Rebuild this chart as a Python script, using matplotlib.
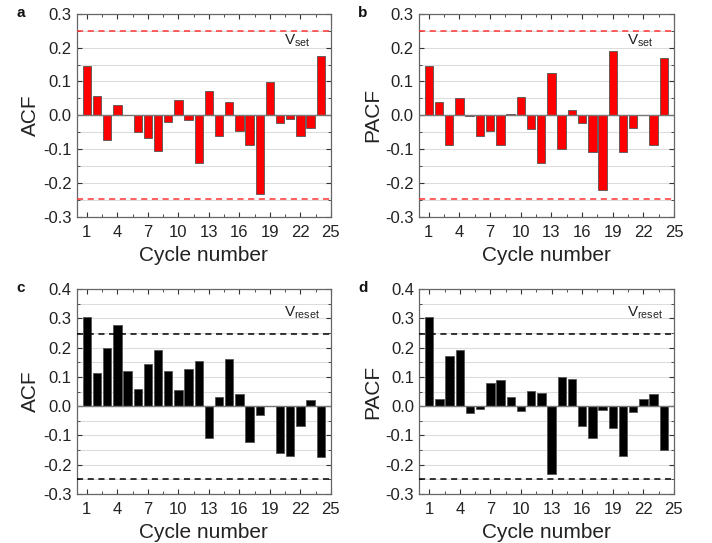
import numpy as np
import matplotlib
matplotlib.use('Agg')
import matplotlib.pyplot as plt
from matplotlib.ticker import MultipleLocator, FixedLocator

plt.rcParams['font.family'] = ['Liberation Sans', 'DejaVu Sans']
plt.rcParams['mathtext.fontset'] = 'custom'
plt.rcParams['mathtext.rm'] = 'Liberation Sans'

cycles = list(range(1, 25))
xtick_labels = [1, 4, 7, 10, 13, 16, 19, 22, 25]

acf_set = [0.147, 0.058, -0.074, 0.029, 0.0, -0.050, -0.067, -0.106, -0.020, 0.045,
           -0.014, -0.140, 0.071, -0.060, 0.038, -0.048, -0.087, -0.234, 0.099, -0.022,
           -0.012, -0.062, -0.039, 0.174]
pacf_set = [0.146, 0.038, -0.088, 0.052, -0.002, -0.062, -0.046, -0.087, 0.005, 0.054,
            -0.040, -0.141, 0.126, -0.099, 0.016, -0.023, -0.108, -0.220, 0.189, -0.109,
            -0.038, 0.0, -0.089, 0.168]
acf_reset = [0.305, 0.113, 0.197, 0.277, 0.119, 0.057, 0.145, 0.193, 0.120, 0.056,
             0.128, 0.153, -0.109, 0.031, 0.162, 0.043, -0.124, -0.031, 0.0, -0.160,
             -0.169, -0.068, 0.020, -0.173]
pacf_reset = [0.305, 0.024, 0.172, 0.193, -0.024, -0.010, 0.078, 0.090, 0.031, -0.017,
              0.053, 0.044, -0.232, 0.101, 0.093, -0.069, -0.110, -0.014, -0.076, -0.169,
              -0.020, 0.023, 0.041, -0.150]

conf_limit = 0.248

panels = [
    # letter, values, ylabel, colour, dashed colour, note, ylim, rect
    ('a', acf_set, 'ACF', '#ff0000', '#ff3333', 'set', (-0.3, 0.3), [0.1077, 0.601, 0.357, 0.3735]),
    ('b', pacf_set, 'PACF', '#ff0000', '#ff3333', 'set', (-0.3, 0.3), [0.5878, 0.601, 0.359, 0.3735]),
    ('c', acf_reset, 'ACF', '#000000', '#000000', 'reset', (-0.3, 0.4), [0.1077, 0.0902, 0.357, 0.3775]),
    ('d', pacf_reset, 'PACF', '#000000', '#000000', 'reset', (-0.3, 0.4), [0.5885, 0.0902, 0.358, 0.3775]),
]

fig = plt.figure(figsize=(7.12, 5.43), dpi=100)

for letter, vals, ylab, col, dcol, note, ylim, rect in panels:
    ax = fig.add_axes(rect)
    ax.set_xlim(0, 25)
    ax.set_ylim(*ylim)
    ax.yaxis.set_major_locator(MultipleLocator(0.1))
    ax.yaxis.set_minor_locator(MultipleLocator(0.05))
    ax.xaxis.set_major_locator(FixedLocator(xtick_labels))
    ax.xaxis.set_minor_locator(FixedLocator([2.5, 5.5, 8.5, 11.5, 14.5, 17.5, 20.5, 23.5]))
    ax.set_xticklabels([str(t) for t in xtick_labels])
    ax.yaxis.set_major_formatter(matplotlib.ticker.FormatStrFormatter('%.1f'))

    # light grid every 0.05
    for g in np.arange(ylim[0], ylim[1] + 0.001, 0.05):
        ax.axhline(g, color='#dddddd', lw=0.8, zorder=0)

    ax.bar(cycles, vals, width=0.82, color=col, edgecolor='#555555', linewidth=0.6, zorder=2)
    ax.axhline(0, color='#777777', lw=1.0, zorder=3)
    ax.axhline(conf_limit, color=dcol, lw=1.1, ls=(0, (4, 3)), zorder=3)
    ax.axhline(-conf_limit, color=dcol, lw=1.1, ls=(0, (4, 3)), zorder=3)

    ty = 0.222 if note == 'set' else 0.318
    ax.text(20.4, ty, r'V$_{\mathrm{%s}}$' % note, fontsize=11, color='#222222',
            va='center', ha='left')

    ax.tick_params(which='both', direction='in', top=True, right=True,
                   labelsize=12, colors='#333333', labelcolor='#222222')
    ax.tick_params(axis='x', which='major', pad=6)
    ax.tick_params(which='major', length=3.5, width=0.8)
    ax.tick_params(which='minor', length=2, width=0.6)
    for s in ax.spines.values():
        s.set_color('#666666')
        s.set_linewidth(0.9)

    ax.set_xlabel('Cycle number', fontsize=15, color='#222222', labelpad=4)
    ax.set_ylabel(ylab, fontsize=15, color='#222222', labelpad=2)

    bb = ax.get_position()
    fig.text(bb.x0 - 0.085, bb.y1 + 0.002, letter, fontsize=11, fontweight='bold',
             color='#111111', va='center', ha='left')

fig.savefig('out.png', dpi=100)
